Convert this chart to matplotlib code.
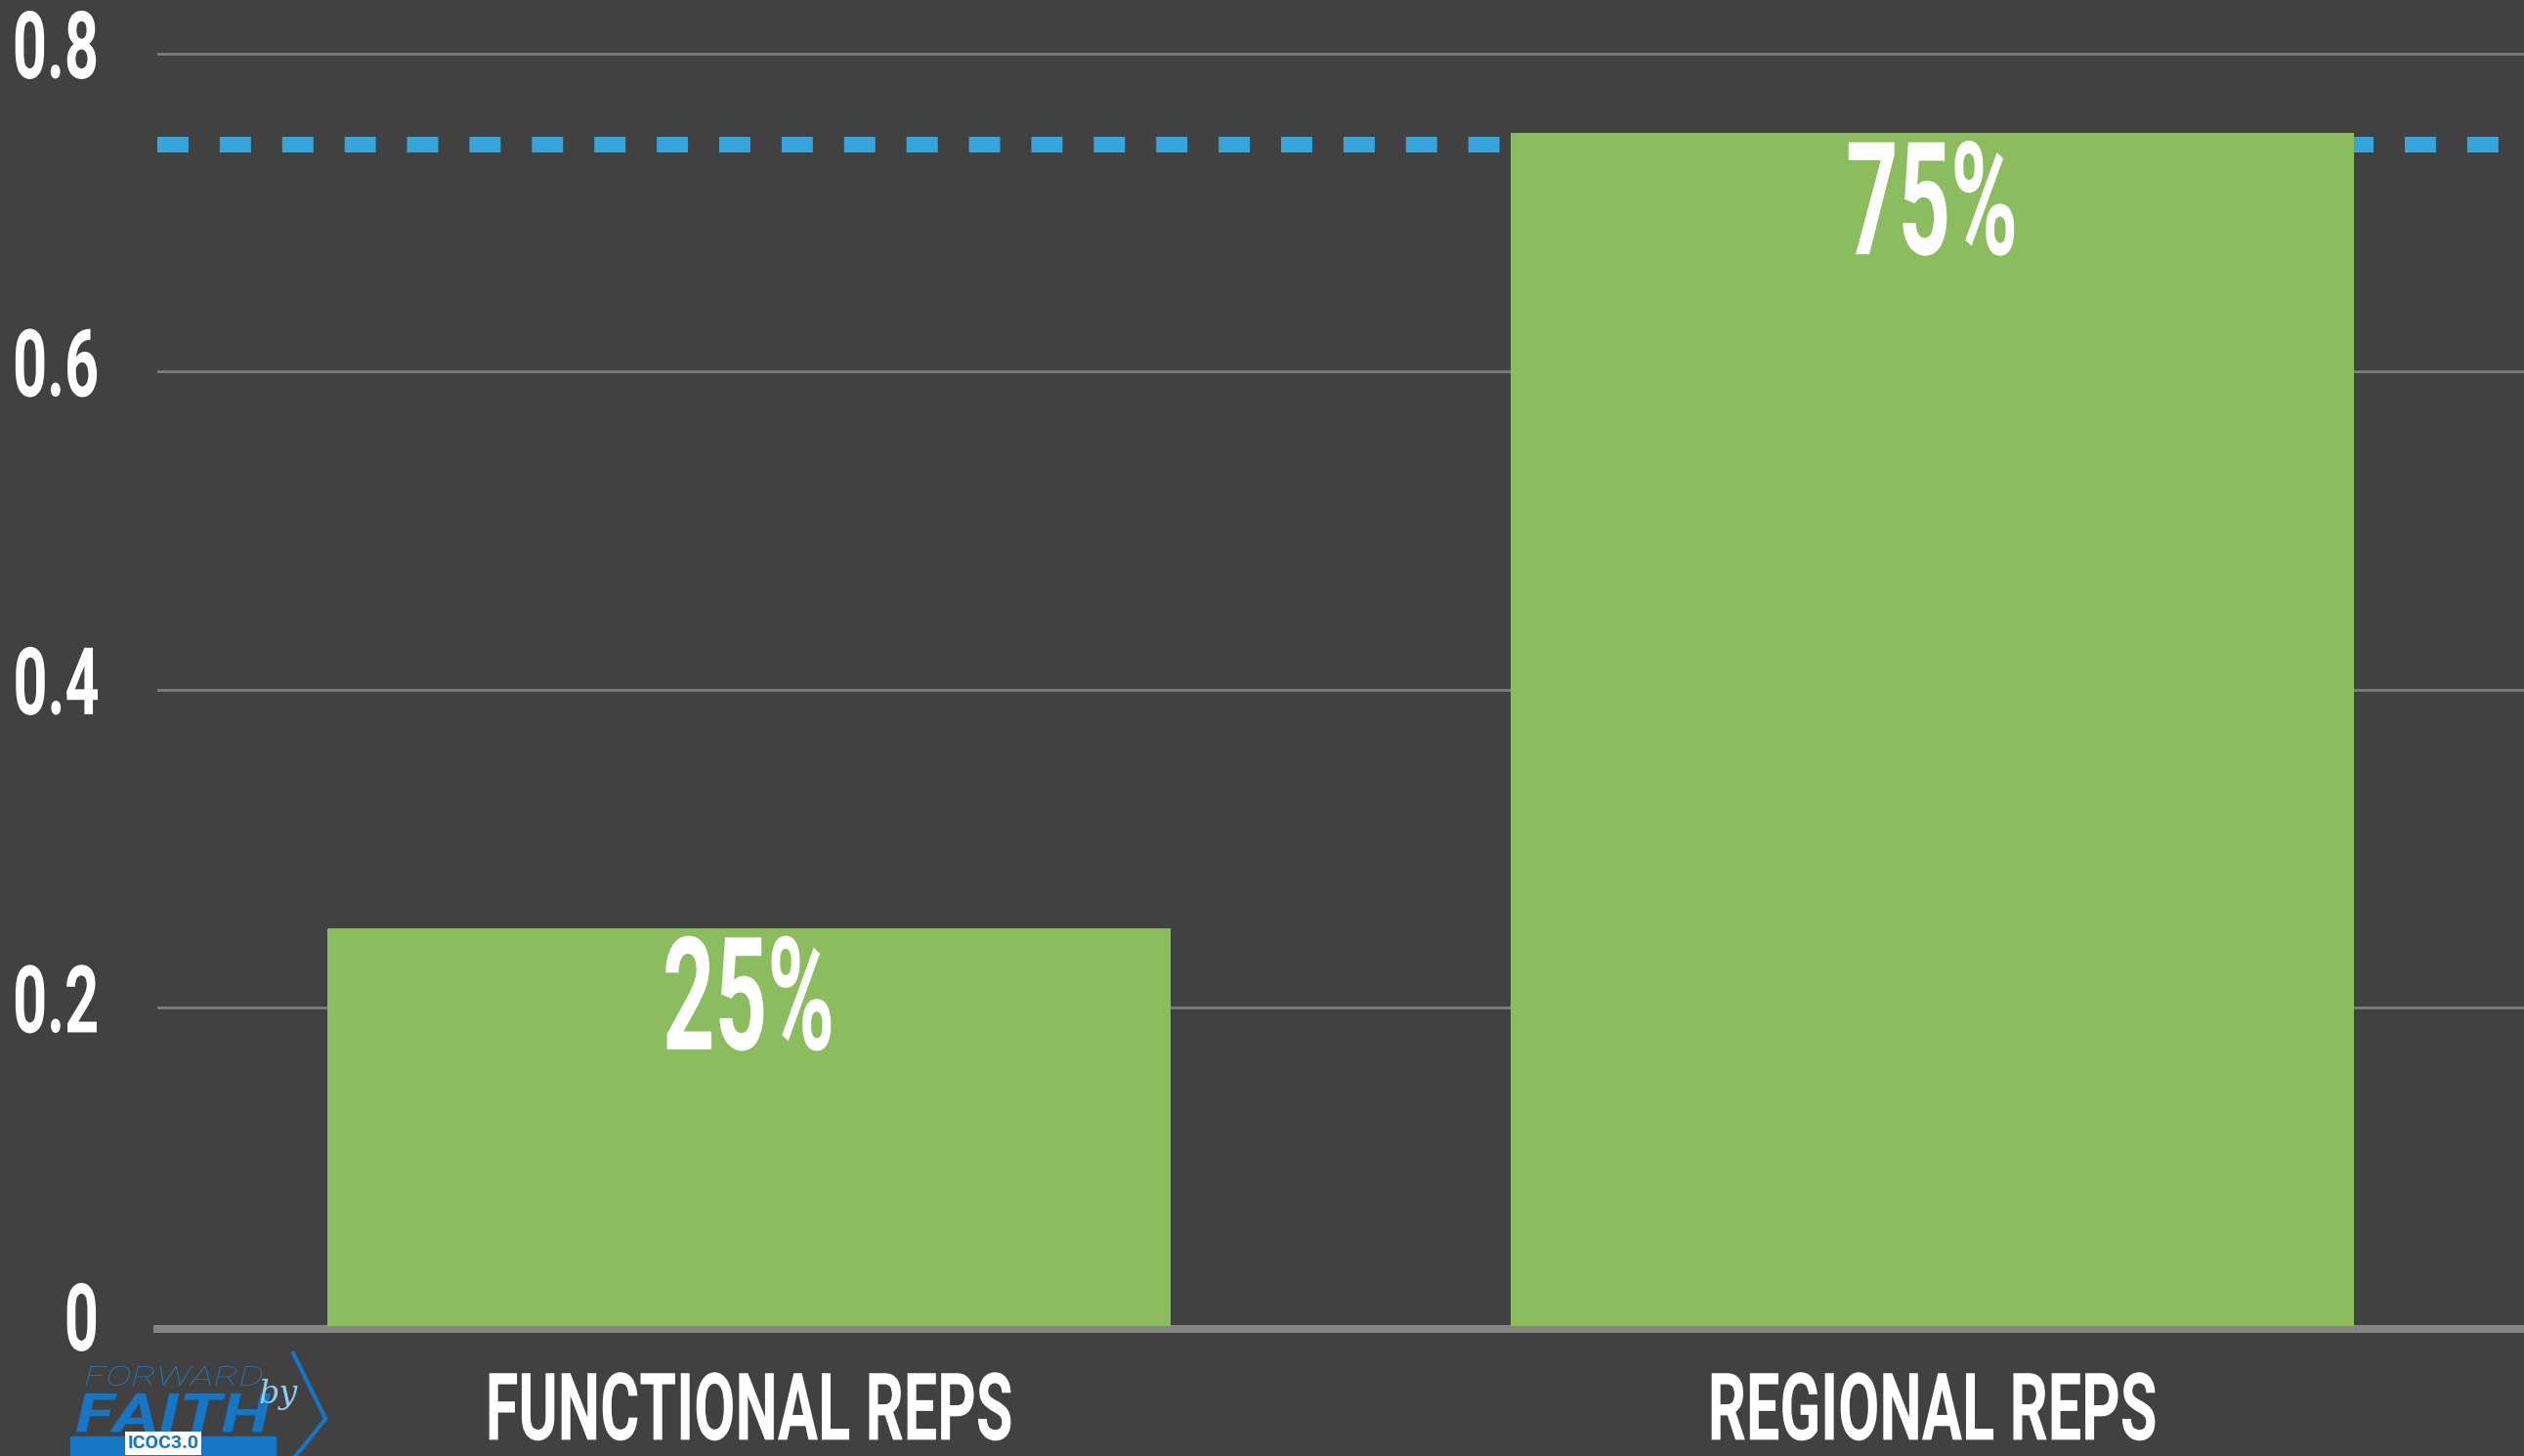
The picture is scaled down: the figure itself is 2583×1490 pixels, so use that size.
import matplotlib.pyplot as plt
from matplotlib.patheffects import AbstractPathEffect
from matplotlib.transforms import Affine2D, ScaledTranslation
from matplotlib.lines import Line2D
from matplotlib.patches import Rectangle

# data
categories = ['FUNCTIONAL REPS', 'REGIONAL REPS']
shares = [0.25, 0.75]
share_labels = ['25%', '75%']
target = 0.743
y_ticks = [0, 0.2, 0.4, 0.6, 0.8]
y_tick_labels = ['0', '0.2', '0.4', '0.6', '0.8']

BG = '#414141'
GREEN = '#8bbd5f'
BLUE = '#34a6dc'
GRID = '#7c7c7c'
AXIS = '#858585'
LOGO = '#1476c4'

plt.rcParams['font.family'] = ['Roboto', 'DejaVu Sans']


class Squeeze(AbstractPathEffect):
    # squeeze (or stretch) text horizontally to mimic a condensed typeface
    def __init__(self, sx, anchor='center'):
        super().__init__()
        self.sx = sx
        self.anchor = anchor

    def draw_path(self, renderer, gc, tpath, affine, rgbFace=None):
        ext = tpath.get_extents()
        if self.anchor == 'right':
            cx = ext.x1
        elif self.anchor == 'left':
            cx = ext.x0
        else:
            cx = (ext.x0 + ext.x1) / 2
        t = Affine2D().translate(-cx, 0).scale(self.sx, 1).translate(cx, 0) + affine
        renderer.draw_path(gc, tpath, t, rgbFace)


fig = plt.figure(figsize=(25.83, 14.90), dpi=100, facecolor=BG)
ax = fig.add_axes([0.0623, 0.0893, 0.9377, 0.9107])
ax.set_facecolor(BG)

# spines first: moving a spine resets the ticks
for s in ['top', 'right', 'left']:
    ax.spines[s].set_visible(False)
ax.spines['bottom'].set_color(AXIS)
ax.spines['bottom'].set_linewidth(5.8)
ax.spines['bottom'].set_position(('outward', 2))
ax.spines['bottom'].set_zorder(1)

x = list(range(len(categories)))
ax.bar(x, shares, width=0.713, color=GREEN, zorder=3)
ax.axhline(target, color=BLUE, lw=11.5, dashes=(2, 2), dash_capstyle='butt', zorder=2)

ax.set_xlim(-0.5, 1.5)
ax.set_ylim(0, 0.8338)

ax.yaxis.grid(True, color=GRID, lw=2, zorder=0)
ax.set_axisbelow(True)
ax.set_yticks(y_ticks)
ax.set_yticklabels(y_tick_labels, fontsize=69, fontweight='bold', color='white')
ax.set_xticks(x)
ax.set_xticklabels(categories, fontsize=69, fontweight='bold', color='white')
ax.tick_params(axis='y', length=0, pad=42)
ax.tick_params(axis='x', length=0, pad=30)

for lbl in ax.get_yticklabels():
    lbl.set_path_effects([Squeeze(0.64, 'right')])
    lbl.set_transform(lbl.get_transform() + ScaledTranslation(0, 0.11, fig.dpi_scale_trans))
for lbl in ax.get_xticklabels():
    lbl.set_path_effects([Squeeze(0.64)])

# hide the gridline at 0 under the axis
ax.get_ygridlines()[0].set_visible(False)

for xi, v, t in zip(x, shares, share_labels):
    ax.annotate(t, xy=(xi, v), xytext=(0, -2), textcoords='offset points',
                ha='center', va='top', fontsize=116, fontweight='bold',
                color='white', zorder=4, path_effects=[Squeeze(0.58)])

# logo in the lower left corner
fig.add_artist(Rectangle((0.028, 0.0), 0.081, 0.0135, color=LOGO,
                         transform=fig.transFigure))
fig.text(0.0335, 0.0485, 'FORWARD', fontsize=20, style='italic', fontweight='light',
         color='#1b7cc0', ha='left', va='baseline',
         path_effects=[Squeeze(1.45, 'left')])
fig.text(0.030, 0.0165, 'FAITH', fontsize=40, style='italic', fontweight='bold',
         color=LOGO, ha='left', va='baseline', path_effects=[Squeeze(1.3, 'left')])
fig.text(0.1025, 0.036, 'by', fontsize=24, style='italic', color='#8fcdf0',
         ha='left', va='baseline', family='DejaVu Serif')
fig.text(0.0505, 0.0025, 'ICOC3.0', fontsize=14, fontweight='bold', color=LOGO,
         ha='left', va='bottom',
         bbox=dict(boxstyle='square,pad=0.15', fc='white', ec='none'))
fig.add_artist(Line2D([0.1162, 0.129, 0.1125], [0.0705, 0.0255, -0.01], color=LOGO,
                      lw=3, transform=fig.transFigure))

fig.savefig('out.png', dpi=100, facecolor=BG)
